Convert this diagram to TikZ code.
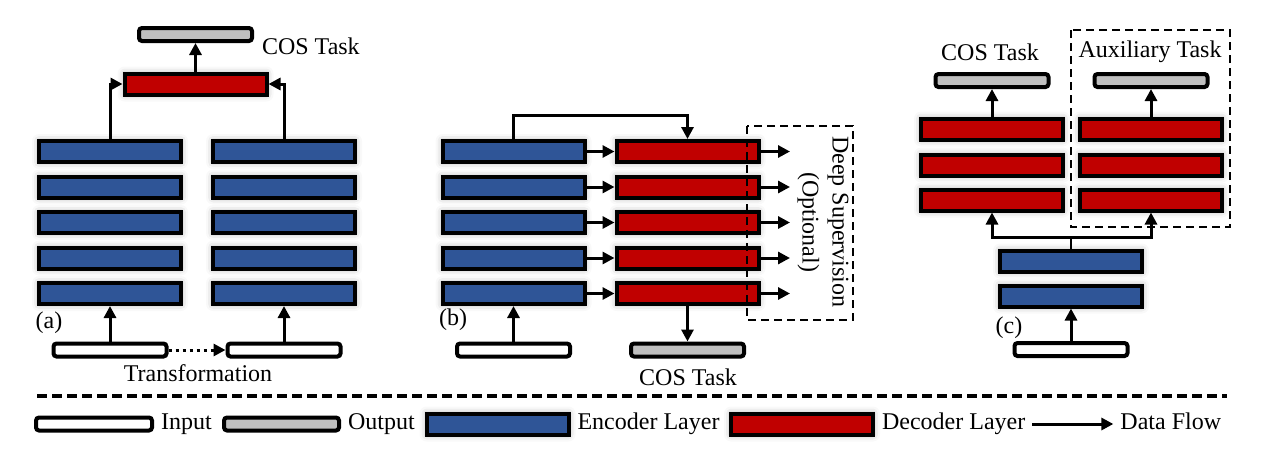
\documentclass[tikz,border=0pt]{standalone}
\usepackage{fontspec}
\setmainfont{Liberation Serif}
\usetikzlibrary{arrows.meta}
\usetikzlibrary{positioning}
\usetikzlibrary{shadows.blur}
\definecolor{encblue}{HTML}{2F5597}
\definecolor{decred}{HTML}{C00000}
\definecolor{outgray}{HTML}{BFBFBF}

\begin{document}
\begin{tikzpicture}[x=0.5pt,y=-0.5pt,>={Triangle[length=6pt,width=6pt]},
    font=\fontsize{12}{15}\selectfont,
    layer/.style={draw=black,line width=2pt,minimum width=71pt,minimum height=10.5pt,inner sep=0pt,
        blur shadow={shadow xshift=0pt,shadow yshift=0pt,shadow blur radius=3.5pt,shadow opacity=35}},
    enc/.style={layer,fill=encblue},
    dec/.style={layer,fill=decred},
    io/.style={draw=black,line width=2pt,rounded corners=1.5pt,minimum width=56.5pt,minimum height=6.5pt,inner sep=0pt},
    inbox/.style={io,fill=white},
    outbox/.style={io,fill=outgray},
    flow/.style={->,line width=1.5pt},
    group/.style={draw=black,line width=0.8pt,dash pattern=on 4pt off 2.5pt},
    keytxt/.style={text height=8pt,text depth=2.5pt}]

        \useasboundingbox (0,0) rectangle (1270,451);

        % (a) two encoder stacks and one decoder
        \foreach \i/\y in {1/151.5,2/187,3/222.5,4/258,5/293.5}{
            \node[enc] (aL\i) at (110,\y) {};
            \node[enc] (aR\i) at (284,\y) {};
        }
        \node[dec] (adec) at (195.5,84) {};
        \node[outbox] (aout) at (195.5,34.5) {};
        \node[inbox] (ainL) at (110,350) {};
        \node[inbox] (ainR) at (284,350) {};
        \draw[flow] (ainL) -- (aL5);
        \draw[flow] (ainR) -- (aR5);
        \draw[flow] (aL1.north) |- (adec.west);
        \draw[flow] (aR1.north) |- (adec.east);
        \draw[flow] (adec) -- (aout);
        \draw[flow,dotted] (ainL) -- (ainR);
        \node[anchor=west] (acos) at (255,46) {COS Task};
        \node (atrans) at (198,373) {Transformation};
        \node (albl) at (49,323) {(a)};

        % (b) encoder-decoder with deep supervision
        \foreach \i/\y in {1/151.5,2/187,3/222.5,4/258,5/293.5}{
            \node[enc] (bE\i) at (513.5,\y) {};
            \node[dec] (bD\i) at (687.5,\y) {};
            \coordinate (bS\i) at (790,\y);
            \draw[flow] (bE\i) -- (bD\i);
            \draw[flow] (bD\i) -- (bS\i);
        }
        \node[inbox] (bin) at (513.5,350) {};
        \node[outbox] (bout) at (687.5,350) {};
        \draw[flow] (bin) -- (bE5);
        \draw[flow] (bD5) -- (bout);
        \draw[flow] (bE1.north) -- ++(0,-24) -| (bD1.north);
        \draw[group] (747,126) rectangle (853,320);
        \node[rotate=-90,align=center] (bds) at (823,222) {Deep Supervision\\(Optional)};
        \node (blbl) at (453,320) {(b)};
        \node (bcos) at (688,377) {COS Task};

        % (c) shared encoder, two decoder heads
        \foreach \i/\y in {1/129,2/165,3/200}{
            \node[dec] (cL\i) at (992,\y) {};
            \node[dec] (cR\i) at (1151,\y) {};
        }
        \node[outbox] (cout1) at (992,80.5) {};
        \node[outbox] (cout2) at (1151,80.5) {};
        \node[enc] (cE1) at (1071,261) {};
        \node[enc] (cE2) at (1071,296) {};
        \node[inbox] (cin) at (1071,349.5) {};
        \coordinate (cfork) at (1071,237);
        \draw[flow] (cin) -- (cE2);
        \draw[line width=1pt] (cE1.north) -- (cfork);
        \draw[flow] (cfork) -| (cL3.south);
        \draw[flow] (cfork) -| (cR3.south);
        \draw[flow] (cL1) -- (cout1);
        \draw[flow] (cR1) -- (cout2);
        \draw[group] (1071,30) rectangle (1230,227);
        \node (ccos) at (990,52) {COS Task};
        \node (caux) at (1150,52) {Auxiliary Task};
        \node (clbl) at (1009,328) {(c)};

        % legend
        \draw[line width=2pt,dash pattern=on 5pt off 2.5pt] (37,396) -- (1227,396);
        \node[inbox,minimum width=58pt] (kin) at (94,424) {};
        \node[keytxt,right=0pt of kin] (kintxt) {Input};
        \node[outbox,minimum width=57.5pt] (kout) at (281.5,424) {};
        \node[keytxt,right=0pt of kout] (kouttxt) {Output};
        \node[enc] (kenc) at (497.5,424) {};
        \node[keytxt,right=0pt of kenc] (kenctxt) {Encoder Layer};
        \node[dec] (kdec) at (802,424) {};
        \node[keytxt,right=0pt of kdec] (kdectxt) {Decoder Layer};
        \node[keytxt,right=40.5pt of kdectxt] (kflowtxt) {Data Flow};
        \draw[flow] (kdectxt) -- (kflowtxt);

\end{tikzpicture}
\end{document}
